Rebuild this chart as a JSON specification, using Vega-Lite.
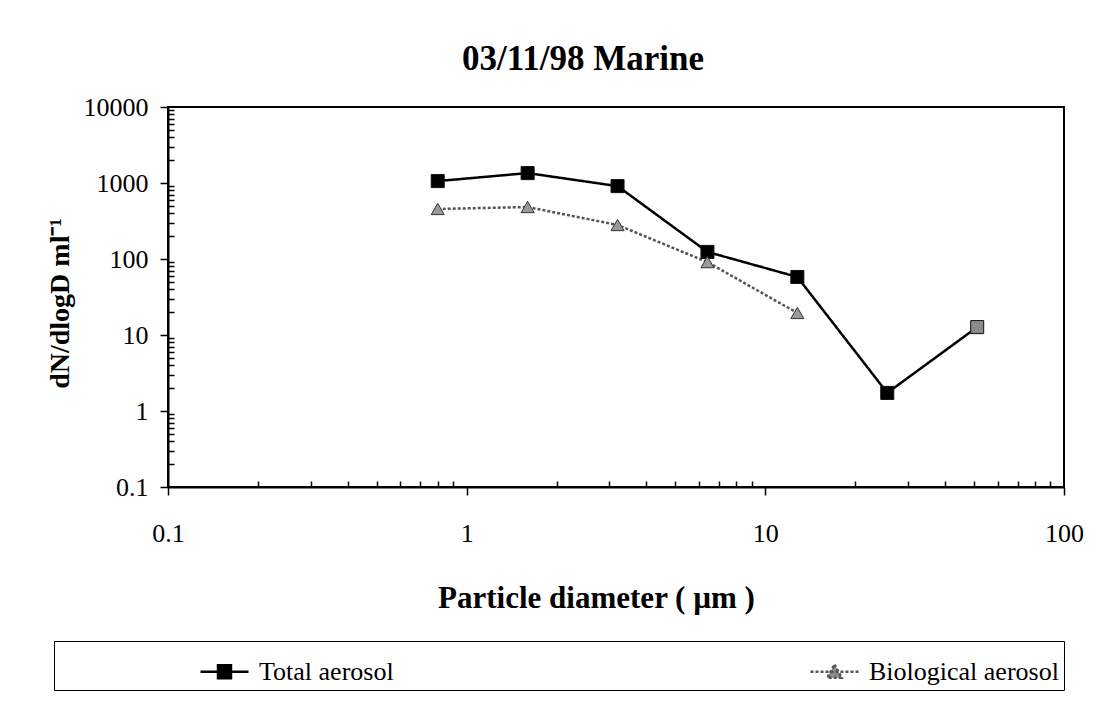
{
  "$schema": "https://vega.github.io/schema/vega-lite/v6.json",
  "width": 896,
  "height": 380,
  "autosize": {"type": "none"},
  "padding": {"left": 168, "top": 107, "right": 44, "bottom": 224},
  "background": "white",
  "config": {
    "view": {"stroke": "black", "strokeWidth": 2},
    "font": "Liberation Serif"
  },
  "title": {
    "text": "03/11/98 Marine",
    "font": "Liberation Serif",
    "fontSize": 35,
    "fontWeight": "bold",
    "color": "black",
    "anchor": "middle",
    "frame": "group",
    "offset": 36,
    "dy": 19,
    "dx": -33
  },
  "data": {
    "values": [
      {"series": "Total aerosol", "diameter": 0.8, "dN": 1060},
      {"series": "Total aerosol", "diameter": 1.6, "dN": 1350},
      {"series": "Total aerosol", "diameter": 3.2, "dN": 910},
      {"series": "Total aerosol", "diameter": 6.4, "dN": 124},
      {"series": "Total aerosol", "diameter": 12.8, "dN": 58},
      {"series": "Total aerosol", "diameter": 25.6, "dN": 1.73},
      {"series": "Total aerosol", "diameter": 51.2, "dN": 12.7},
      {"series": "Biological aerosol", "diameter": 0.8, "dN": 455},
      {"series": "Biological aerosol", "diameter": 1.6, "dN": 483},
      {"series": "Biological aerosol", "diameter": 3.2, "dN": 280},
      {"series": "Biological aerosol", "diameter": 6.4, "dN": 91},
      {"series": "Biological aerosol", "diameter": 12.8, "dN": 19.5}
    ]
  },
  "encoding": {
    "x": {
      "field": "diameter",
      "type": "quantitative",
      "scale": {"type": "log", "domain": [0.1, 100], "nice": false},
      "axis": {
        "values": [0.1,0.2,0.3,0.4,0.5,0.6,0.7,0.8,0.9,1,2,3,4,5,6,7,8,9,10,20,30,40,50,60,70,80,90,100],
        "labelExpr": "abs(log(datum.value)/LN10 - round(log(datum.value)/LN10)) < 0.001 ? format(datum.value, '~g') : ''",
        "tickSize": {"condition": {"test": "abs(log(datum.value)/LN10 - round(log(datum.value)/LN10)) < 0.001", "value": 8}, "value": -6},
        "tickColor": "black",
        "tickWidth": 1.5,
        "domainColor": "black",
        "domainWidth": 2,
        "grid": false,
        "labelFont": "Liberation Serif",
        "labelFontSize": 26,
        "labelColor": "black",
        "labelPadding": 25,
        "labelFlush": false,
        "labelOverlap": false,
        "title": "Particle diameter ( µm )",
        "titleFont": "Liberation Serif",
        "titleFontSize": 31,
        "titleFontWeight": "bold",
        "titleColor": "black",
        "titleX": 428,
        "titleY": 120,
        "titleAlign": "center",
        "titleBaseline": "alphabetic"
      }
    },
    "y": {
      "field": "dN",
      "type": "quantitative",
      "scale": {"type": "log", "domain": [0.1, 10000], "nice": false},
      "axis": {
        "values": [0.1,0.2,0.3,0.4,0.5,0.6,0.7,0.8,0.9,1,2,3,4,5,6,7,8,9,10,20,30,40,50,60,70,80,90,100,200,300,400,500,600,700,800,900,1000,2000,3000,4000,5000,6000,7000,8000,9000,10000],
        "labelExpr": "abs(log(datum.value)/LN10 - round(log(datum.value)/LN10)) < 0.001 ? format(datum.value, '~g') : ''",
        "tickSize": {"condition": {"test": "abs(log(datum.value)/LN10 - round(log(datum.value)/LN10)) < 0.001", "value": 8}, "value": -6},
        "tickColor": "black",
        "tickWidth": 1.5,
        "domainColor": "black",
        "domainWidth": 2,
        "grid": false,
        "labelFont": "Liberation Serif",
        "labelFontSize": 26,
        "labelColor": "black",
        "labelPadding": 12,
        "labelFlush": false,
        "labelOverlap": false,
        "title": "dN/dlogD ml⁻¹",
        "titleFont": "Liberation Serif",
        "titleFontSize": 28,
        "titleFontWeight": "bold",
        "titleColor": "black",
        "titleAngle": 270,
        "titleX": -108,
        "titleY": 196,
        "titleAlign": "center",
        "titleBaseline": "middle"
      }
    }
  },
  "layer": [
    {
      "mark": {"type": "line", "strokeWidth": 2.5},
      "encoding": {
        "color": {
          "field": "series",
          "type": "nominal",
          "scale": {"domain": ["Total aerosol", "Biological aerosol"], "range": ["black", "#555555"]},
          "legend": {
            "title": null,
            "orient": "none",
            "legendX": -114,
            "legendY": 534,
            "direction": "horizontal",
            "padding": 5,
            "strokeColor": "black",
            "fillColor": "white",
            "symbolOffset": 140,
            "symbolSize": 2304,
            "labelOffset": 9,
            "columnPadding": 275,
            "labelFont": "Liberation Serif",
            "labelFontSize": 26,
            "labelColor": "black",
            "labelLimit": 400,
            "encode": {
              "symbols": {
                "update": {
                  "shape": {"signal": "datum.value === 'Total aerosol' ? 'M-1,0L1,0M-0.27,-0.27L0.27,-0.27L0.27,0.27L-0.27,0.27Z' : 'M-1,0L1,0M0,-0.3L0.3,0.25L-0.3,0.25Z'"},
                  "size": {"value": 2304},
                  "fill": {"signal": "datum.value === 'Total aerosol' ? 'black' : '#8a8a8a'"},
                  "stroke": {"signal": "datum.value === 'Total aerosol' ? 'black' : '#555555'"},
                  "strokeWidth": {"value": 2.5},
                  "strokeDash": {"signal": "datum.value === 'Total aerosol' ? [1,0] : [3,2]"},
                  "opacity": {"value": 1},
                  "fillOpacity": {"value": 1}
                }
              }
            }
          }
        },
        "strokeDash": {
          "field": "series",
          "type": "nominal",
          "scale": {"domain": ["Total aerosol", "Biological aerosol"], "range": [[1, 0], [3, 2]]},
          "legend": null
        }
      }
    },
    {
      "transform": [{"filter": "datum.series === 'Total aerosol'"}],
      "mark": {"type": "point", "shape": "square", "filled": true, "size": 170, "opacity": 1, "stroke": "#111111", "strokeWidth": 1},
      "encoding": {
        "fill": {
          "condition": {"test": "datum.diameter > 50", "value": "#8a8a8a"},
          "value": "black"
        }
      }
    },
    {
      "transform": [{"filter": "datum.series === 'Biological aerosol'"}],
      "mark": {"type": "point", "shape": "triangle-up", "filled": true, "size": 170, "opacity": 1, "fill": "#9a9a9a", "stroke": "#333333", "strokeWidth": 1}
    }
  ]
}
